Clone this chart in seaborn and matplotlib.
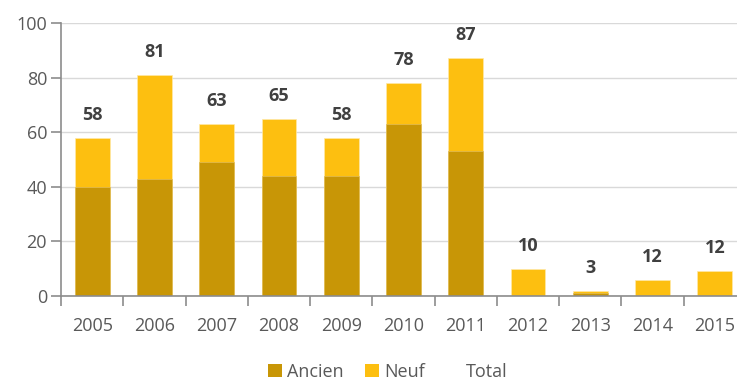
import matplotlib
matplotlib.use("Agg")
import matplotlib.pyplot as plt
from matplotlib.patches import Patch
from matplotlib.lines import Line2D
import numpy as np
import pandas as pd
import seaborn as sns

# Housing transactions per year, split by old / new stock
years = ["2005", "2006", "2007", "2008", "2009", "2010", "2011", "2012", "2013", "2014", "2015"]
ancien = [40, 43, 49, 44, 44, 63, 53, 0, 1, 0, 0]
neuf = [18, 38, 14, 21, 14, 15, 34, 10, 1, 6, 9]
total = [58, 81, 63, 65, 58, 78, 87, 10, 3, 12, 12]

col_ancien = "#C89606"
col_neuf = "#FDBF10"
text_col = "#595959"
label_col = "#404040"

sns.set_theme(style="white")
plt.rcParams["font.family"] = ["Open Sans", "DejaVu Sans"]

df = pd.DataFrame({"annee": years, "ancien": ancien, "neuf": neuf, "total": total})
df["cumul"] = df["ancien"] + df["neuf"]

fig = plt.figure(figsize=(7.37, 3.83), dpi=100)
ax = fig.add_axes([61 / 737, 87 / 383, 685 / 737, 273 / 383])

sns.barplot(data=df, x="annee", y="cumul", color=col_neuf, width=0.56,
            saturation=1, ax=ax, zorder=3, edgecolor="#FFE9A8", linewidth=0.5)
sns.barplot(data=df, x="annee", y="ancien", color=col_ancien, width=0.56,
            saturation=1, ax=ax, zorder=4, edgecolor="#E0BC5A", linewidth=0.5)

for i, (h, t) in enumerate(zip(df["cumul"], df["total"])):
    ax.annotate(str(t), xy=(i, h), xytext=(0, 23), textcoords="offset pixels",
                ha="center", va="center", fontsize=13, fontweight="bold", color=label_col, zorder=5)

ax.set_xlim(-0.5, len(years) - 0.5)
ax.set_ylim(0, 100)
ax.set_yticks(np.arange(0, 101, 20))
ax.set_xlabel("")
ax.set_ylabel("")

ax.yaxis.grid(True, color="#D9D9D9", linewidth=1, zorder=0)
ax.xaxis.grid(False)
ax.set_axisbelow(True)

for s in ["top", "right"]:
    ax.spines[s].set_visible(False)
for s in ["left", "bottom"]:
    ax.spines[s].set_color("#8C8C8C")
    ax.spines[s].set_linewidth(1.2)
    ax.spines[s].set_zorder(6)

ax.tick_params(axis="y", direction="out", length=7, width=1.2, color="#8C8C8C",
               labelsize=13, labelcolor=text_col, pad=3, left=True)
ax.set_xticks(np.arange(len(years)))
ax.set_xticklabels(years)
ax.tick_params(axis="x", which="major", length=0, labelsize=13, labelcolor=text_col, pad=15)
ax.set_xticks(np.arange(len(years) + 1) - 0.5, minor=True)
ax.tick_params(axis="x", which="minor", direction="out", length=7, width=1.2,
               color="#8C8C8C", bottom=True)

handles = [Patch(facecolor=col_ancien, edgecolor="none"),
           Patch(facecolor=col_neuf, edgecolor="none"),
           Line2D([], [], color="none")]
fig.legend(handles, ["Ancien", "Neuf", "Total"], loc="center", bbox_to_anchor=(0.526, 0.03),
           ncol=3, frameon=False, fontsize=13, handlelength=0.75, handleheight=0.75,
           handletextpad=0.3, columnspacing=1.2, labelcolor=text_col,
           borderpad=0.1)

fig.savefig("out.png", dpi=100)
